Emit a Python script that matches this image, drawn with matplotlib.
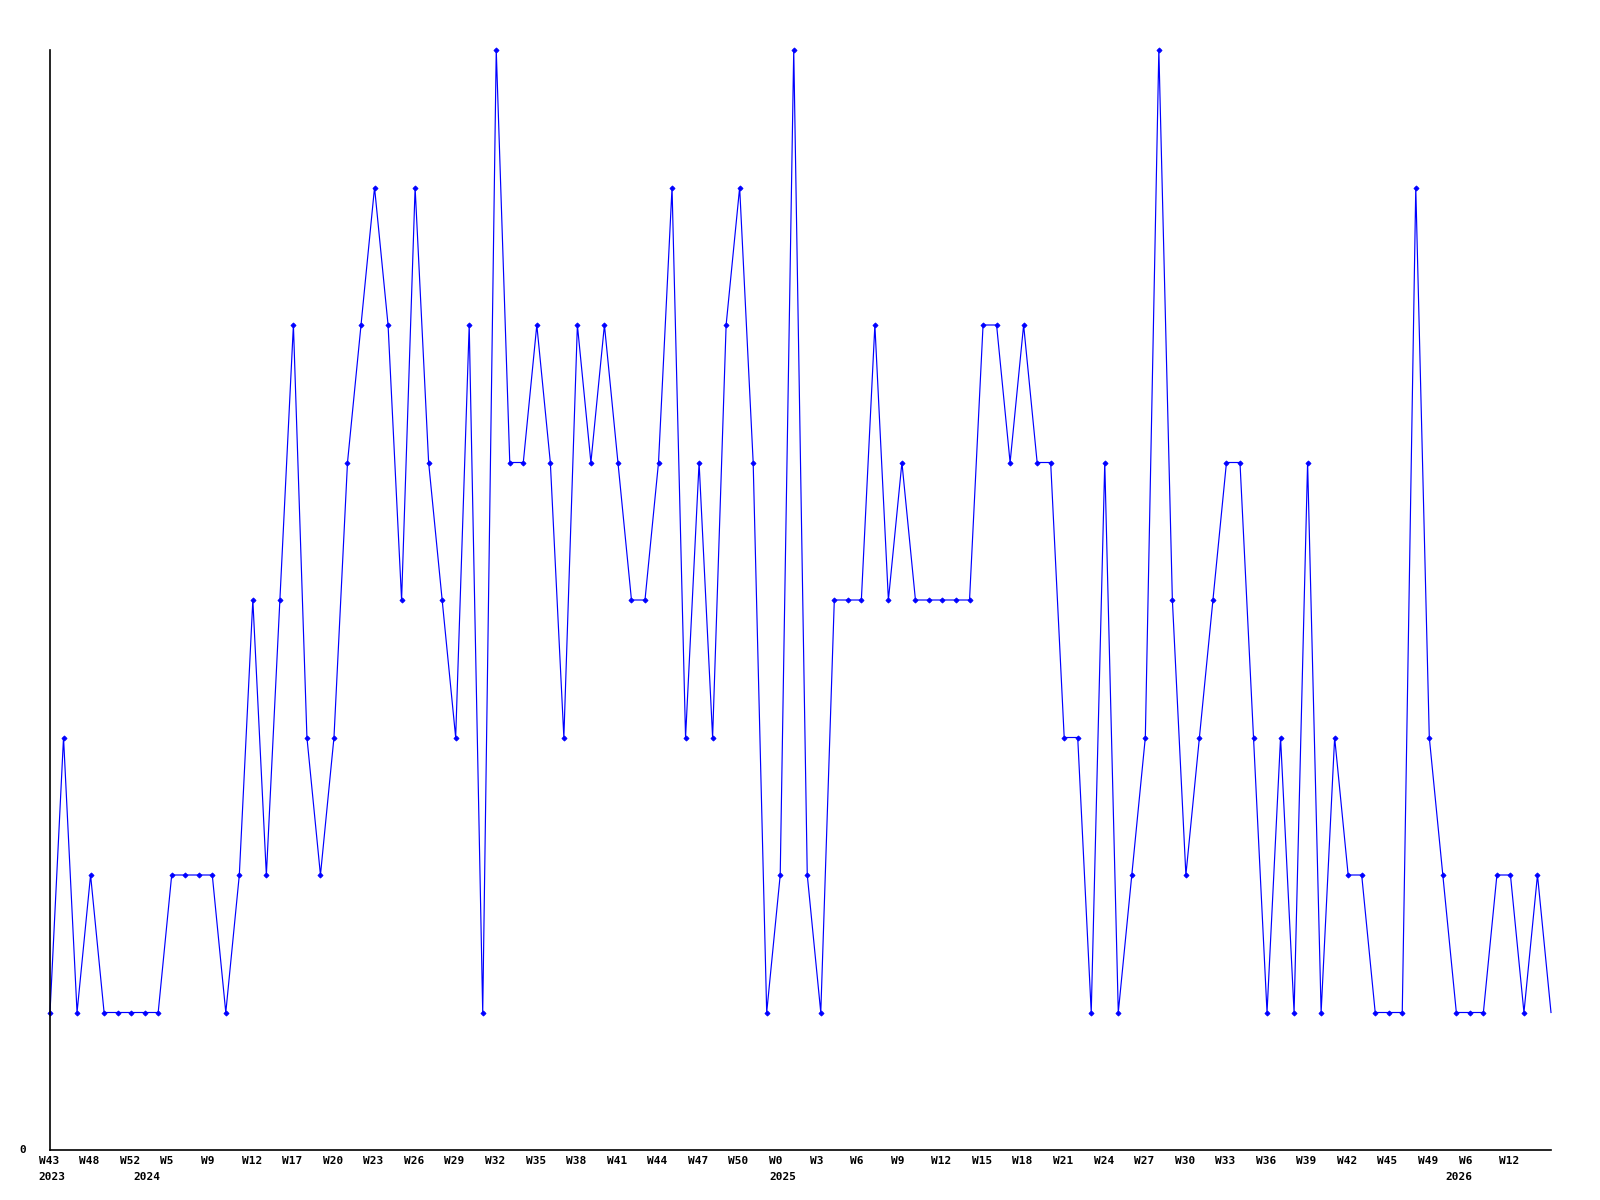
import matplotlib
matplotlib.use("Agg")
import matplotlib.pyplot as plt
import matplotlib.transforms as mtransforms
import numpy as np

# ---- data ----
values = [
    1, 3, 1, 2, 1, 1, 1, 1, 1, 2,
    2, 2, 2, 1, 2, 4, 2, 4, 6, 3,
    2, 3, 5, 6, 7, 6, 4, 7, 5, 4,
    3, 6, 1, 8, 5, 5, 6, 5, 3, 6,
    5, 6, 5, 4, 4, 5, 7, 3, 5, 3,
    6, 7, 5, 1, 2, 8, 2, 1, 4, 4,
    4, 6, 4, 5, 4, 4, 4, 4, 4, 6,
    6, 5, 6, 5, 5, 3, 3, 1, 5, 1,
    2, 3, 8, 4, 2, 3, 4, 5, 5, 3,
    1, 3, 1, 5, 1, 3, 2, 2, 1, 1,
    1, 7, 3, 2, 1, 1, 1, 2, 2, 1,
    2, 1,
]
week_labels = [
    "W43", "W48", "W52", "W5", "W9", "W12", "W17", "W20", "W23", "W26",
    "W29", "W32", "W35", "W38", "W41", "W44", "W47", "W50", "W0", "W3",
    "W6", "W9", "W12", "W15", "W18", "W21", "W24", "W27", "W30", "W33",
    "W36", "W39", "W42", "W45", "W49", "W6", "W12",
]
label_step = 3
year_labels = ["2023", "2024", "2025", "2026"]
year_index = [0, 7, 54, 104]

# ---- figure ----
W, H, DPI = 1600, 1200, 100
fig = plt.figure(figsize=(W / DPI, H / DPI), dpi=DPI)
ax = fig.add_axes([50 / W, 50 / H, (1551 - 50) / W, (1150 - 50) / H])

x = np.arange(len(values))
ax.plot(x, values, color="#0000FF", linewidth=0.85, marker="D", markersize=2.6,
        markeredgewidth=0.6, markevery=slice(0, len(values) - 1), clip_on=False)

ax.set_xlim(0, len(values) - 1)
ax.set_ylim(0, 8)
for s in ["top", "right"]:
    ax.spines[s].set_visible(False)
for s in ["left", "bottom"]:
    ax.spines[s].set_color("black")
    ax.spines[s].set_linewidth(1.2)
ax.set_xticks([])
ax.set_yticks([])

font = dict(family="DejaVu Sans Mono", weight="bold", size=8, color="black")

# week labels (left-anchored slightly before the point)
off_week = mtransforms.offset_copy(ax.get_xaxis_transform(), fig=fig,
                                   x=-8.1, y=-11.0 * 72 / DPI, units="points")
for i, lab in enumerate(week_labels):
    ax.text(i * label_step, 0, lab, transform=off_week, ha="left", va="center", **font)

off_year = mtransforms.offset_copy(ax.get_xaxis_transform(), fig=fig,
                                   x=-8.1, y=-27.0 * 72 / DPI, units="points")
for idx, lab in zip(year_index, year_labels):
    ax.text(idx, 0, lab, transform=off_year, ha="left", va="center", **font)

# y label "0"
off_y = mtransforms.offset_copy(ax.get_yaxis_transform(), fig=fig,
                                x=-24 * 72 / DPI, y=0, units="points")
ax.text(0, 0, "0", transform=off_y, ha="right", va="center", **font)

fig.savefig("out.png", dpi=DPI, facecolor="white")
